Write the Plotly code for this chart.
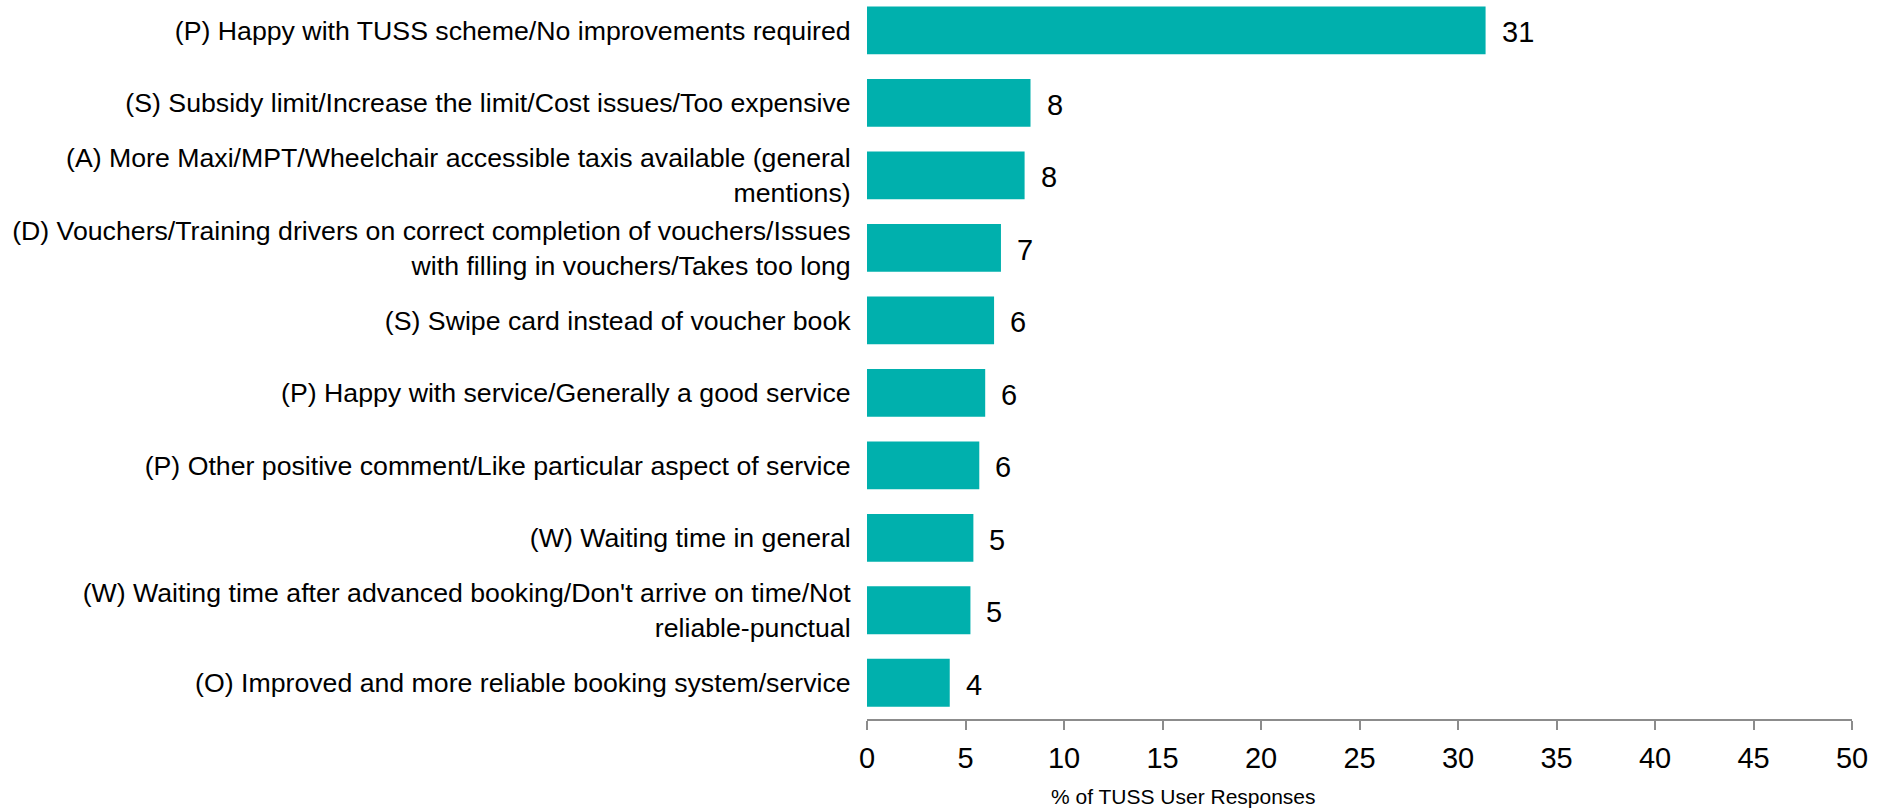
import plotly.graph_objects as go

# Response categories, top to bottom
categories = [
    "(P) Happy with TUSS scheme/No improvements required",
    "(S) Subsidy limit/Increase the limit/Cost issues/Too expensive",
    "(A) More Maxi/MPT/Wheelchair accessible taxis available (general<br>mentions)",
    "(D) Vouchers/Training drivers on correct completion of vouchers/Issues<br>with filling in vouchers/Takes too long",
    "(S) Swipe card instead of voucher book",
    "(P) Happy with service/Generally a good service",
    "(P) Other positive comment/Like particular aspect of service",
    "(W) Waiting time in general",
    "(W) Waiting time after advanced booking/Don't arrive on time/Not<br>reliable-punctual",
    "(O) Improved and more reliable booking system/service",
]

# Share of TUSS user responses (%)
pct_responses = [31.4, 8.3, 8.0, 6.8, 6.45, 6.0, 5.7, 5.4, 5.25, 4.2]

x_ticks = [0, 5, 10, 15, 20, 25, 30, 35, 40, 45, 50]
x_title = "% of TUSS User Responses"

BAR_COLOR = "#00B0AD"
AXIS_COLOR = "#8C8C8C"
FONT = "Liberation Sans, Arial, sans-serif"

fig = go.Figure(
    go.Bar(
        x=pct_responses,
        y=categories,
        orientation="h",
        marker=dict(color=BAR_COLOR, line=dict(width=0)),
        width=0.66,
        hoverinfo="skip",
    )
)

# Value labels to the right of each bar
for cat, val in zip(categories, pct_responses):
    fig.add_annotation(
        x=val, y=cat, xref="x", yref="y",
        text=f"{val:.0f}", showarrow=False,
        xanchor="left", yanchor="middle", xshift=14, yshift=-2,
        font=dict(family=FONT, size=29, color="#000000"),
    )

# Axis title, placed left of centre under the axis
fig.add_annotation(
    x=0.3215, y=-0.108, xref="paper", yref="paper",
    text=x_title, showarrow=False,
    xanchor="center", yanchor="middle",
    font=dict(family=FONT, size=21, color="#000000"),
)

fig.update_layout(
    width=1877, height=811,
    margin=dict(l=867, r=25, t=0, b=92, autoexpand=False),
    plot_bgcolor="#FFFFFF",
    paper_bgcolor="#FFFFFF",
    showlegend=False,
    font=dict(family=FONT, color="#000000"),
)

fig.update_xaxes(
    range=[0, 50],
    tickvals=x_ticks,
    ticktext=[str(t) for t in x_ticks],
    showgrid=False, zeroline=False,
    showline=True, linecolor=AXIS_COLOR, linewidth=2,
    ticks="outside", ticklen=9, tickwidth=2, tickcolor=AXIS_COLOR,
    ticklabelstandoff=3,
    tickfont=dict(family=FONT, size=29, color="#000000"),
)

fig.update_yaxes(
    type="category",
    categoryorder="array", categoryarray=categories,
    range=[9.5, -0.42],
    showgrid=False, zeroline=False, showline=False,
    ticks="outside", ticklen=10, tickcolor="rgba(0,0,0,0)",
    tickfont=dict(family=FONT, size=26.7, color="#000000"),
)

fig.write_html("out.html")
